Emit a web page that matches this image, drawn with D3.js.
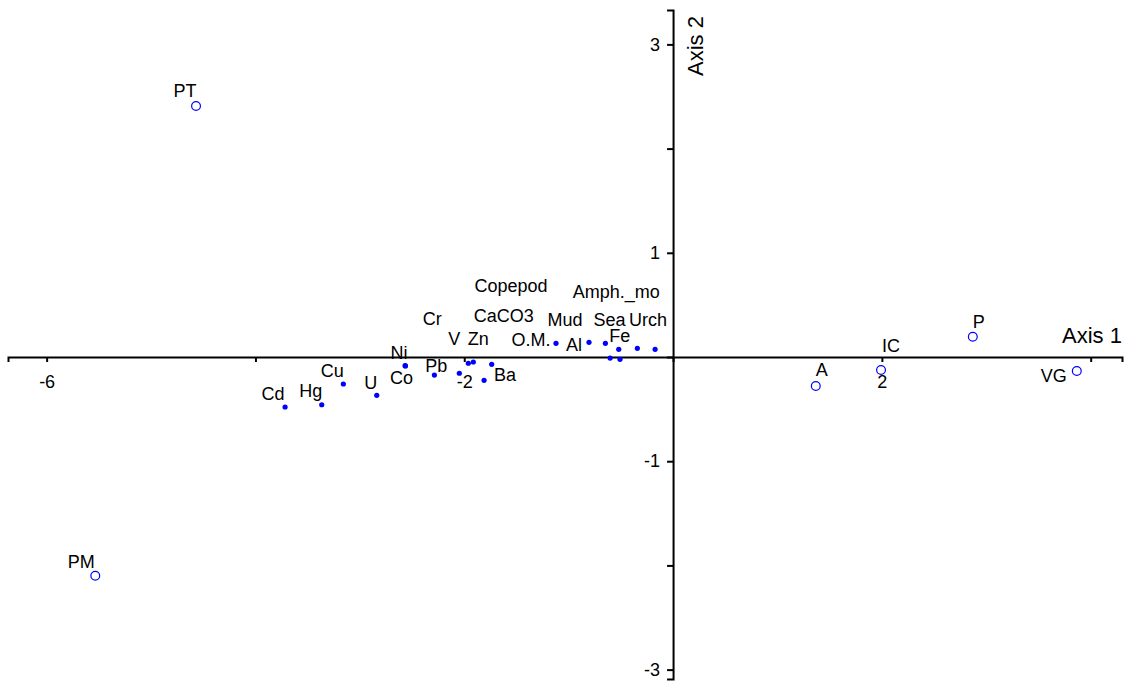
<!DOCTYPE html>
<html>
<head>
<meta charset="utf-8">
<script src="https://cdn.jsdelivr.net/npm/d3@7"></script>
<style>
  body { margin: 0; background: #fff; }
  svg { font-family: "Liberation Sans", Arial, sans-serif; }
  .axis path, .axis line { stroke: #000; stroke-width: 2; }
  .axis text { font-size: 18px; fill: #000; }
  .lbl { font-size: 18px; fill: #000; text-anchor: middle; }
</style>
</head>
<body>
<svg id="chart" width="1129" height="683"></svg>
<script>
// sites (open circles)
let siteNames = ["PT", "PM", "A", "IC", "P", "VG"]
let siteAx1 = [-4.569, -5.534, 1.367, 1.992, 2.871, 3.867]
let siteAx2 = [2.409, -2.099, -0.278, -0.125, 0.195, -0.134]

// variables (filled dots)
let varNames = ["Cd", "Hg", "Cu", "U", "Ni", "Co", "Pb", "V", "Cr", "Zn", "Ba", "CaCO3",
    "O.M.", "Al", "Sea", "Mud", "Fe", "Copepod", "Amph._mo", "Urch"]
let varAx1 = [-3.716, -3.365, -3.158, -2.838, -2.567, -2.563, -2.286, -2.047, -1.961, -1.913, -1.810, -1.737,
    -1.121, -0.805, -0.648, -0.603, -0.520, -0.508, -0.342, -0.172]
let varAx2 = [-0.480, -0.458, -0.259, -0.368, -0.083, -0.086, -0.173, -0.156, -0.060, -0.048, -0.224, -0.070,
    0.131, 0.141, 0.131, -0.010, 0.074, -0.022, 0.083, 0.074]

// tick values and which ones get a label
let xTicks = [-6, -4, -2, 0, 2, 4]
let xTickLabels = [-6, -2, 2]
let yTicks = [-3, -2, -1, 0, 1, 2, 3]
let yTickLabels = [-3, -1, 1, 3]

// label nudges in px (label centre / baseline relative to the mark)
let labelNudge = {
    "PT": [-11, -9], "PM": [-14, -8], "A": [6, -10], "IC": [10, -18], "P": [6, -9], "VG": [-23, 11],
    "Cd": [-12, -7], "Hg": [-11, -8], "Cu": [-11, -7], "U": [-6, -6], "Ni": [-6, -7], "Co": [-4, 18],
    "Pb": [2, -3], "V": [-5, -28], "Cr": [-36, -38], "Zn": [5, -17], "Ba": [21, 1], "CaCO3": [12, -42],
    "O.M.": [-25, 3], "Al": [-15, 9], "Sea": [4, -17], "Mud": [-45, -32], "Fe": [1, -7],
    "Copepod": [-109, -67], "Amph._mo": [-21, -50], "Urch": [-7, -23]
}

let sites = siteNames.map((n, i) => ({name: n, a1: siteAx1[i], a2: siteAx2[i]}))
let vars = varNames.map((n, i) => ({name: n, a1: varAx1[i], a2: varAx2[i]}))

let svg = d3.select("#chart")

let x = d3.scaleLinear()
    .domain([-6.37, 4.3])
    .range([8, 1122])

let y = d3.scaleLinear()
    .domain([-3.09, 3.33])
    .range([679, 10])

let xAxis = svg.append("g")
    .attr("class", "axis")
    .attr("transform", "translate(0," + y(0) + ")")
    .call(d3.axisBottom(x)
        .tickValues(xTicks)
        .tickSizeOuter(0)
        .tickSize(5)
        .tickPadding(13)
        .tickFormat(d => xTickLabels.includes(d) ? d : ""))

let yAxis = svg.append("g")
    .attr("class", "axis")
    .attr("transform", "translate(" + x(0) + ",0)")
    .call(d3.axisLeft(y)
        .tickValues(yTicks)
        .tickSizeOuter(0)
        .tickSize(6)
        .tickPadding(7)
        .tickFormat(d => yTickLabels.includes(d) ? d : ""))

svg.append("text")
    .attr("x", 1092)
    .attr("y", 343)
    .attr("text-anchor", "middle")
    .style("font-size", "22px")
    .text("Axis 1")

svg.append("text")
    .attr("transform", "translate(703,46) rotate(-90)")
    .attr("text-anchor", "middle")
    .style("font-size", "22px")
    .text("Axis 2")

svg.append("g").selectAll("circle")
    .data(vars)
    .enter()
    .append("circle")
    .attr("cx", d => x(d.a1))
    .attr("cy", d => y(d.a2))
    .attr("r", 2.6)
    .attr("fill", "#0000ff")

svg.append("g").selectAll("circle")
    .data(sites)
    .enter()
    .append("circle")
    .attr("cx", d => x(d.a1))
    .attr("cy", d => y(d.a2))
    .attr("r", 4.4)
    .attr("fill", "none")
    .attr("stroke", "#0000ff")
    .attr("stroke-width", 1.2)

svg.append("g").selectAll("text")
    .data(sites.concat(vars))
    .enter()
    .append("text")
    .attr("class", "lbl")
    .attr("x", d => x(d.a1) + labelNudge[d.name][0])
    .attr("y", d => y(d.a2) + labelNudge[d.name][1])
    .text(d => d.name)
</script>
</body>
</html>
